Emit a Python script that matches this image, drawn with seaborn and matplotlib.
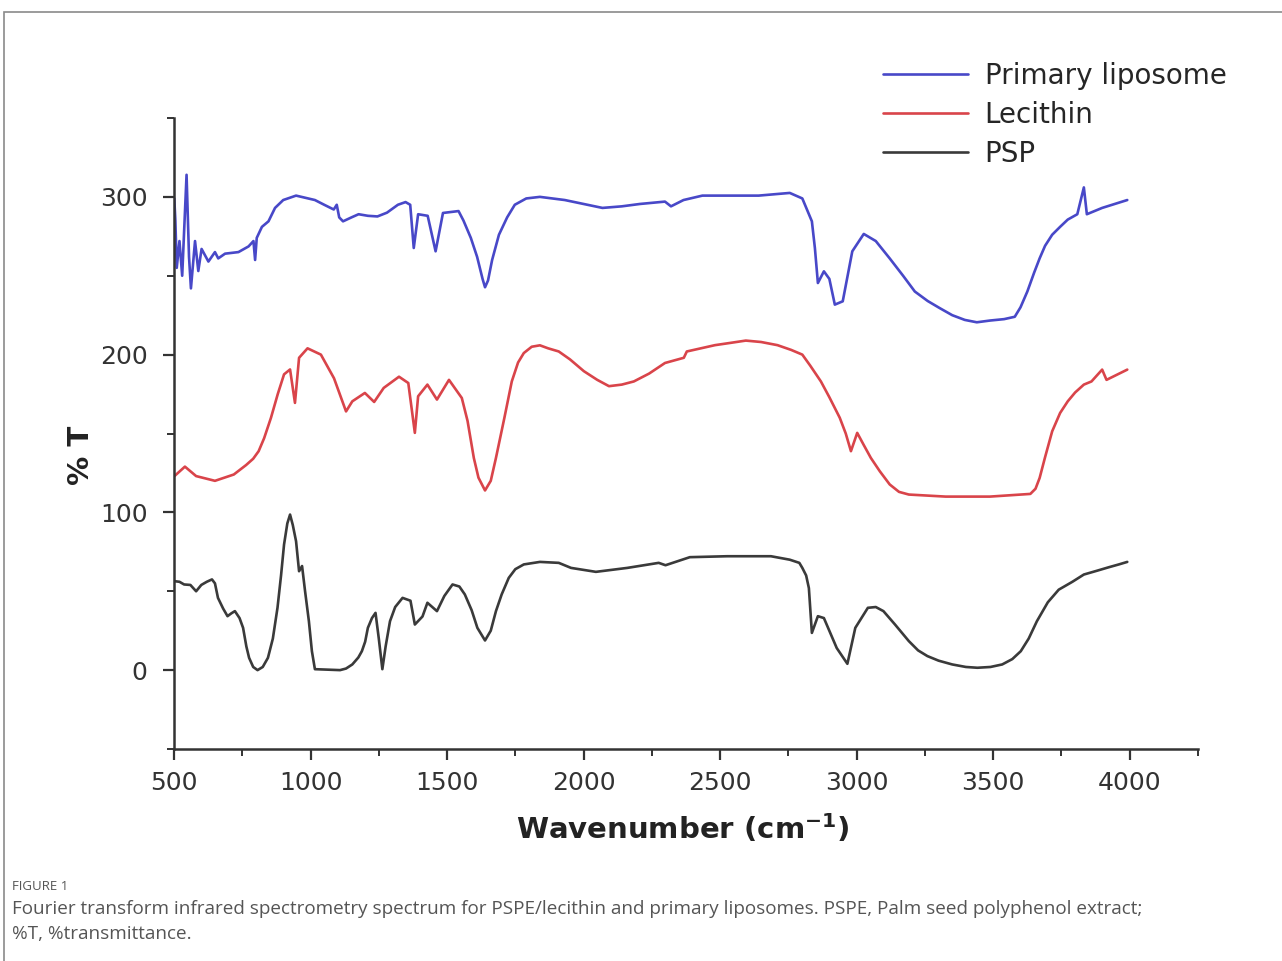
import matplotlib
matplotlib.use("Agg")
import matplotlib.pyplot as plt
from matplotlib.patches import Rectangle
from matplotlib.ticker import MultipleLocator
import seaborn as sns
import pandas as pd


# FTIR spectra (wavenumber, %T)
#==============================================================================
liposome_x = [501, 505, 510, 520, 530, 546, 555, 562, 577, 589, 601, 626, 650,
              662, 687, 736, 773, 791, 797, 803, 822, 846, 870, 900, 947, 1016,
              1050, 1085, 1096, 1105, 1119, 1150, 1176, 1210, 1245, 1280, 1320,
              1348, 1365, 1378, 1394, 1429, 1458, 1485, 1542, 1560, 1587, 1610,
              1630, 1639, 1650, 1665, 1690, 1720, 1748, 1790, 1840, 1931, 2000,
              2069, 2140, 2206, 2298, 2320, 2366, 2435, 2641, 2755, 2801, 2836,
              2847, 2858, 2880, 2900, 2920, 2949, 2984, 3026, 3070, 3121, 3170,
              3213, 3260, 3304, 3350, 3396, 3440, 3488, 3540, 3579, 3600, 3625,
              3650, 3670, 3690, 3716, 3745, 3773, 3808, 3832, 3843, 3899, 3991]
liposome_y = [299, 285, 255, 272, 250, 314, 262, 242, 272, 253, 267, 259, 265,
              261, 264, 265, 268.6, 272, 260, 274, 281, 284.5, 293, 298, 300.8, 298,
              295, 292, 295, 287, 284.5, 287, 289, 288, 287.6, 290, 295,
              296.7, 295, 267.6, 289, 288, 265.5, 289.8, 291, 285, 274, 262,
              248, 242.7, 247, 260, 276, 287, 295, 299, 300, 298, 295.5,
              293, 294, 295.5, 297, 294, 298, 300.8, 300.8, 302.5, 299, 284.5,
              267.6, 245.4, 252.8, 248, 231.7, 233.8, 265.5, 276.5, 272, 261, 250,
              240, 234, 229.5, 225, 222, 220.5, 221.6, 222.5, 224, 230, 240,
              252, 261, 269, 276, 281, 285.6, 289, 306, 289, 293, 298]

lecithin_x = [501, 540, 581, 650, 719, 764, 790, 810, 830, 855, 880, 903, 925,
              943, 958, 989, 1038, 1086, 1130, 1153, 1199, 1233, 1268, 1324,
              1358, 1382, 1394, 1428, 1463, 1507, 1554, 1575, 1598, 1615, 1639,
              1660, 1679, 1710, 1737, 1760, 1781, 1810, 1840, 1870, 1909, 1950,
              2001, 2050, 2093, 2140, 2184, 2240, 2298, 2367, 2378, 2481, 2540,
              2594, 2650, 2710, 2760, 2801, 2830, 2869, 2900, 2938, 2960, 2979,
              3002, 3025, 3052, 3085, 3121, 3155, 3191, 3326, 3488, 3636, 3655,
              3670, 3690, 3716, 3745, 3773, 3800, 3832, 3860, 3899, 3915, 3991]
lecithin_y = [122.9, 129, 123, 120, 124, 130, 134, 138.8, 147, 159.9, 175, 187.5,
              190.6, 169.4, 198, 204, 200, 185, 164, 170.4, 175.7, 170, 178.9,
              186, 182, 150.4, 173.6, 181, 171.5, 184, 172.5, 158, 134.5, 122,
              113.9, 120, 134.5, 160, 183, 195, 201, 205, 205.9, 204, 202, 197,
              189.5, 184, 180, 181, 183, 188, 194.7, 198, 202, 206, 207.5,
              208.9, 208, 206, 203, 200, 193, 183, 173, 160, 150, 138.8,
              150.4, 143, 134.5, 126, 117.7, 113, 111.3, 110, 110, 111.7, 115,
              121.8, 135, 151.4, 163, 170.4, 176, 181, 183, 190.5, 184, 190.5]

psp_x = [501, 520, 537, 560, 581, 600, 620, 639, 650, 661, 680, 696, 710, 723,
         740, 753, 765, 775, 790, 806, 825, 844, 862, 879, 892, 903, 915, 925,
         935, 947, 958, 969, 980, 994, 1005, 1016, 1108, 1130, 1153, 1175, 1188,
         1200, 1210, 1225, 1238, 1250, 1263, 1275, 1291, 1310, 1337, 1366, 1382,
         1410, 1428, 1463, 1490, 1520, 1545, 1565, 1590, 1611, 1639, 1660, 1679,
         1700, 1726, 1750, 1781, 1840, 1909, 1954, 2045, 2160, 2275, 2300, 2389,
         2526, 2686, 2755, 2790, 2801, 2815, 2825, 2836, 2858, 2880, 2927, 2966,
         2995, 3041, 3070, 3098, 3140, 3191, 3225, 3259, 3300, 3350, 3400, 3442,
         3490, 3533, 3570, 3601, 3630, 3660, 3700, 3740, 3790, 3832, 3880, 3923,
         3960, 3991]
psp_y = [56.4, 56, 54.3, 54, 50, 54, 56, 57.5, 55, 45.8, 39, 34.2, 36, 37.4,
         33, 26.8, 15, 7.8, 2, 0, 2, 7.8, 20, 39.5, 60, 79.6, 93, 98.6,
         92, 81.7, 62.7, 66, 50, 31, 12, 0.6, 0, 1, 3.6, 8, 12,
         18, 26.8, 33, 36.3, 20, 0.6, 15, 31, 40, 45.8, 44, 28.9,
         34, 42.7, 37.4, 47, 54.3, 53, 48, 38, 26.8, 18.8, 25, 37.4,
         48, 58.5, 64, 67, 68.6, 68, 64.8, 62.3, 64.8, 68, 66.5, 71.6,
         72.2, 72.2, 70, 68, 64.8, 60, 52, 23.6, 34.2, 33, 14, 4,
         26.8, 39.5, 40, 37.4, 29, 18.4, 12.5, 8.9, 6, 3.6, 2, 1.5,
         2, 3.6, 7, 12, 20, 31, 43, 51, 56, 60.6, 63, 65.2,
         67, 68.6]

series_names = ['Primary liposome', 'Lecithin', 'PSP']
series_colors = ['#4848c8', '#d9444a', '#3a3a3a']

x_ticks = [500, 1000, 1500, 2000, 2500, 3000, 3500, 4000]
y_ticks = [0, 100, 200, 300]

caption_head = 'FIGURE 1'
caption_body = ('Fourier transform infrared spectrometry spectrum for PSPE/lecithin '
                'and primary liposomes. PSPE, Palm seed polyphenol extract;\n'
                '%T, %transmittance.')


#==============================================================================
frames = []
for name, xs, ys in zip(series_names,
                        [liposome_x, lecithin_x, psp_x],
                        [liposome_y, lecithin_y, psp_y]):
    frames.append(pd.DataFrame({'Wavenumber': xs, 'T': ys, 'Sample': name}))
df = pd.concat(frames, ignore_index=True)

sns.set_style('ticks')
plt.rcParams['font.family'] = ['DejaVu Sans']

fig = plt.figure(figsize=(12.82, 9.61), dpi=100)
ax = fig.add_axes([174 / 1282, 1 - 749 / 961, 1024 / 1282, 631 / 961])

sns.lineplot(data=df, x='Wavenumber', y='T', hue='Sample', hue_order=series_names,
             palette=series_colors, estimator=None, sort=False, linewidth=1.9,
             ax=ax)

ax.set_xlim(500, 4250)
ax.set_ylim(-50, 350)
ax.set_xticks(x_ticks)
ax.set_yticks(y_ticks)
ax.xaxis.set_minor_locator(MultipleLocator(250))
ax.yaxis.set_minor_locator(MultipleLocator(50))
ax.tick_params(axis='both', which='major', length=8, width=1.6, color='#333333',
               labelsize=18, labelcolor='#333333')
ax.tick_params(axis='both', which='minor', length=5, width=1.4, color='#333333')
ax.tick_params(axis='y', which='major', pad=11)
ax.tick_params(axis='x', which='major', pad=8)
for side in ['top', 'right']:
    ax.spines[side].set_visible(False)
for side in ['left', 'bottom']:
    ax.spines[side].set_linewidth(1.8)
    ax.spines[side].set_color('#333333')

ax.set_xlabel('Wavenumber (cm$^{\\mathregular{-1}}$)', fontsize=21,
              fontweight='bold', color='#222222')
ax.set_ylabel('% T', fontsize=21, fontweight='bold', color='#222222')
ax.xaxis.set_label_coords(0.497, -0.10)
ax.yaxis.set_label_coords(-0.077, 0.466)

ax.legend(loc='upper left', bbox_to_anchor=(883 / 1282, 1 - 62 / 961),
          bbox_transform=fig.transFigure, frameon=False, fontsize=20,
          handlelength=3.06, handletextpad=0.6, labelspacing=0.39,
          borderpad=0, borderaxespad=0)

# outer frame and caption
fig.patches.append(Rectangle((4 / 1282, -0.2), 1.2, 1.2 - 12 / 961,
                             transform=fig.transFigure, fill=False,
                             edgecolor='#8a8a8a', linewidth=1.2))
fig.text(12 / 1282, 1 - 886 / 961, caption_head, fontsize=9.5, color='#555555',
         family='Open Sans', va='center')
fig.text(12 / 1282, 1 - 900 / 961, caption_body, fontsize=13.6, color='#555555',
         family='Open Sans', va='top', linespacing=1.5)

plt.savefig('out.png', dpi=100)
plt.close()
